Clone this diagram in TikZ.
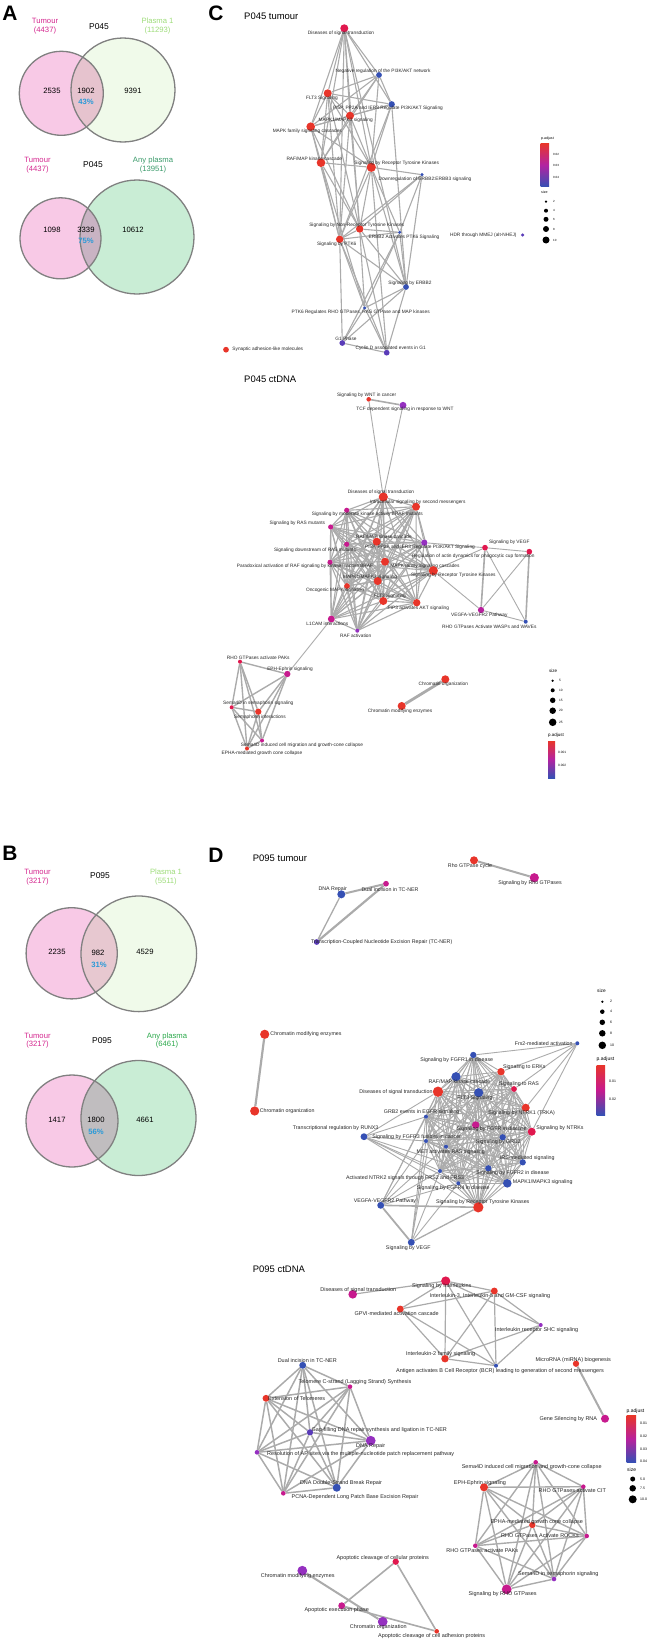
\documentclass[tikz,border=0pt]{standalone}
\usepackage{fontspec}
\setmainfont{Liberation Sans}
\pgfdeclarelayer{edges}
\pgfsetlayers{edges,main}
\definecolor{cR}{HTML}{E8352A}
\definecolor{cC}{HTML}{E0184E}
\definecolor{cM}{HTML}{C71A8E}
\definecolor{cP}{HTML}{9530C0}
\definecolor{cV}{HTML}{5A3CB8}
\definecolor{cB}{HTML}{3550B4}
\definecolor{edgeg}{HTML}{ABABAB}
\definecolor{pinkf}{HTML}{F8C9E6}
\definecolor{plaf}{HTML}{F0FAEA}
\definecolor{anyf}{HTML}{C9EDD5}
\definecolor{ovAa}{HTML}{E6C3CE}
\definecolor{ovAb}{HTML}{C9B3C3}
\definecolor{ovBa}{HTML}{E7C8D0}
\definecolor{ovBb}{HTML}{C0BDBF}
\definecolor{vout}{HTML}{808080}
\definecolor{tumc}{HTML}{D4268E}
\definecolor{plac}{HTML}{9EDC7A}
\definecolor{anyAc}{HTML}{3A9A6A}
\definecolor{anyBc}{HTML}{2AA84A}
\definecolor{pctc}{HTML}{2A9AD8}
\newcommand\gn[8]{\node[dot,fill=#4,minimum size=1.15*#5bp] (#1) at (#2,#3) {};\node[gl] (#1l) at (#6,#7) {#8};}
\newcommand\myclique[2][]{\foreach \a [count=\i] in {#2} {\foreach \b [count=\j] in {#2} {\ifnum\j>\i\relax \draw[edge,#1] (\a) -- (\b);\fi}}}
\begin{document}
\begin{tikzpicture}[x=1bp,y=-1bp,
  dot/.style={circle,inner sep=0pt,draw=none},
  gl/.style={font=\fontsize{4.8}{5}\selectfont,inner sep=0pt,text=black!85},
  edge/.style={draw=edgeg,line width=1.1bp},
  tedge/.style={draw=edgeg,line width=2.2bp},
  vtxt/.style={font=\fontsize{7.7}{8.5}\selectfont,inner sep=0pt,align=center},
  ptxt/.style={font=\fontsize{8.5}{9}\selectfont,inner sep=0pt},
  pct/.style={font=\fontsize{7.7}{8}\selectfont\bfseries,inner sep=0pt,text=pctc},
  ttl/.style={font=\fontsize{9.5}{10}\selectfont,inner sep=0pt,anchor=west},
  plet/.style={font=\fontsize{21}{22}\selectfont\bfseries,inner sep=0pt},
  legt/.style={font=\fontsize{3.6}{4}\selectfont,inner sep=0pt,anchor=west},
  vcirc/.style={draw=vout,line width=1.3bp}]
\useasboundingbox (0,0) rectangle (654,1646);

% ---------- panel letters ----------
\node[plet] (LA) at (10,13) {A};
\node[plet] (LB) at (10,853) {B};
\node[plet] (LC) at (216,13) {C};
\node[plet] (LD) at (216,855) {D};

% ---------- Venn A1 ----------
\fill[pinkf] (61.3,93.3) circle (42);
\fill[plaf] (123,90) circle (52);
\begin{scope}\clip (61.3,93.3) circle (42); \fill[ovAa] (123,90) circle (52);\end{scope}
\draw[vcirc] (61.3,93.3) circle (42);
\draw[vcirc] (123,90) circle (52);
\node[vtxt,text=tumc] (a1t) at (45,26) {Tumour\\(4437)};
\node[ptxt] (a1p) at (99,27) {P045};
\node[vtxt,text=plac] (a1s) at (157.5,26) {Plasma 1\\(11293)};
\node[vtxt] (a1n1) at (52,91) {2535};
\node[vtxt] (a1n2) at (86,91) {1902};
\node[pct] (a1pc) at (86,102) {43\%};
\node[vtxt] (a1n3) at (133,91) {9391};

% ---------- Venn A2 ----------
\fill[pinkf] (60.5,238.3) circle (40.5);
\fill[anyf] (137,237) circle (57);
\begin{scope}\clip (60.5,238.3) circle (40.5); \fill[ovAb] (137,237) circle (57);\end{scope}
\draw[vcirc] (60.5,238.3) circle (40.5);
\draw[vcirc] (137,237) circle (57);
\node[vtxt,text=tumc] (a2t) at (37.5,165) {Tumour\\(4437)};
\node[ptxt] (a2p) at (93,165) {P045};
\node[vtxt,text=anyAc] (a2s) at (153,165) {Any plasma\\(13951)};
\node[vtxt] (a2n1) at (52,230) {1098};
\node[vtxt] (a2n2) at (86,230) {3339};
\node[pct] (a2pc) at (86,241) {75\%};
\node[vtxt] (a2n3) at (133,230) {10612};

% ---------- Venn B1 ----------
\fill[pinkf] (71.7,953.3) circle (45.6);
\fill[plaf] (138.8,953.8) circle (57.8);
\begin{scope}\clip (71.7,953.3) circle (45.6); \fill[ovBa] (138.8,953.8) circle (57.8);\end{scope}
\draw[vcirc] (71.7,953.3) circle (45.6);
\draw[vcirc] (138.8,953.8) circle (57.8);
\node[vtxt,text=tumc] (b1t) at (37.5,877) {Tumour\\(3217)};
\node[ptxt] (b1p) at (100,876) {P095};
\node[vtxt,text=plac] (b1s) at (166,877) {Plasma 1\\(5511)};
\node[vtxt] (b1n1) at (57,952) {2235};
\node[vtxt] (b1n2) at (98,953) {982};
\node[pct] (b1pc) at (99,965) {31\%};
\node[vtxt] (b1n3) at (145,952) {4529};

% ---------- Venn B2 ----------
\fill[pinkf] (72,1121) circle (46);
\fill[anyf] (138.5,1118) circle (57.5);
\begin{scope}\clip (72,1121) circle (46); \fill[ovBb] (138.5,1118) circle (57.5);\end{scope}
\draw[vcirc] (72,1121) circle (46);
\draw[vcirc] (138.5,1118) circle (57.5);
\node[vtxt,text=tumc] (b2t) at (37.5,1040.5) {Tumour\\(3217)};
\node[ptxt] (b2p) at (102,1041) {P095};
\node[vtxt,text=anyBc] (b2s) at (167,1040.5) {Any plasma\\(6461)};
\node[vtxt] (b2n1) at (57,1120) {1417};
\node[vtxt] (b2n2) at (96,1120) {1800};
\node[pct] (b2pc) at (96,1132) {56\%};
\node[vtxt] (b2n3) at (145,1120) {4661};

% ---------- C: P045 tumour ----------
\node[ttl] (ctT) at (244,16) {P045 tumour};
\gn{ct1}{344.3}{28.3}{cC}{7}{341}{33}{Diseases of signal transduction}
\gn{ct2}{379}{75}{cB}{5}{383}{71}{Negative regulation of the PI3K/AKT network}
\gn{ct3}{327.7}{93.3}{cR}{7}{322}{98}{FLT3 Signaling}
\gn{ct4}{391.7}{104.3}{cB}{5.5}{388}{108.7}{PI5P, PP2A and IER3 Regulate PI3K/AKT Signaling}
\gn{ct5}{350}{115.7}{cR}{7}{345.7}{120}{MAPK1/MAPK3 signaling}
\gn{ct6}{310.7}{126.7}{cR}{7.5}{307.3}{131.3}{MAPK family signaling cascades}
\gn{ct7}{321}{162.7}{cR}{7.5}{314.3}{159}{RAF/MAP kinase cascade}
\gn{ct8}{371.3}{167.3}{cR}{8}{396.7}{163.7}{Signaling by Receptor Tyrosine Kinases}
\gn{ct9}{422}{174.7}{cB}{3}{425}{179}{Downregulation of ERBB2:ERBB3 signaling}
\gn{ct10}{359.7}{229}{cR}{6.5}{356.7}{225}{Signaling by Non-Receptor Tyrosine Kinases}
\gn{ct11}{339.7}{239.3}{cR}{6.5}{336.7}{244}{Signaling by PTK6}
\gn{ct12}{399.7}{232.3}{cB}{3}{404}{237.3}{ERBB2 Activates PTK6 Signaling}
\gn{ct13}{522.7}{235}{cV}{3}{483.3}{235}{HDR through MMEJ (alt-NHEJ)}
\gn{ct14}{406}{287}{cB}{5}{410}{283.7}{Signaling by ERBB2}
\gn{ct15}{364.7}{308}{cB}{3}{360.7}{312.7}{PTK6 Regulates RHO GTPases, RAS GTPase and MAP kinases}
\gn{ct16}{342.3}{343}{cV}{5}{346}{339}{G1 Phase}
\gn{ct17}{386.7}{352.7}{cV}{5}{390.7}{348.7}{Cyclin D associated events in G1}
\gn{ct18}{226}{349.7}{cR}{5}{267.8}{349.7}{Synaptic adhesion-like molecules}
\begin{pgfonlayer}{edges}
\foreach \a/\b in {ct1/ct2,ct1/ct3,ct1/ct4,ct1/ct5,ct1/ct6,ct1/ct7,ct1/ct8,ct1/ct11,ct1/ct10,ct1/ct14,
 ct2/ct3,ct2/ct5,ct2/ct6,ct2/ct4,ct2/ct8,ct2/ct7,ct3/ct4,ct3/ct5,ct3/ct6,ct3/ct7,ct3/ct8,ct3/ct11,ct3/ct10,
 ct4/ct5,ct4/ct6,ct4/ct8,ct4/ct11,ct4/ct14,ct5/ct6,ct5/ct7,ct5/ct8,ct5/ct11,ct5/ct10,ct6/ct7,ct6/ct8,ct6/ct11,ct6/ct10,
 ct7/ct8,ct7/ct11,ct7/ct10,ct7/ct15,ct8/ct9,ct8/ct10,ct8/ct11,ct8/ct12,ct8/ct14,ct8/ct17,ct9/ct10,ct9/ct11,ct9/ct12,ct9/ct14,
 ct10/ct11,ct10/ct12,ct10/ct14,ct10/ct15,ct10/ct17,ct11/ct12,ct11/ct14,ct11/ct15,ct11/ct16,ct11/ct17,ct12/ct14,ct12/ct15,ct12/ct16,
 ct14/ct15,ct14/ct16,ct14/ct17,ct15/ct16,ct15/ct17,ct16/ct17}
 {\draw[edge] (\a) -- (\b);}
\end{pgfonlayer}
% legend
\node[legt] (lc1a) at (541,138.3) {p.adjust};
\shade[top color=cR,bottom color=cB,middle color=cM!60!cP] (540.7,143.3) rectangle (549,186.7);
\node[legt,font=\fontsize{3}{3}\selectfont] (lc1b) at (553,154) {0.02};
\node[legt,font=\fontsize{3}{3}\selectfont] (lc1c) at (553,165.3) {0.03};
\node[legt,font=\fontsize{3}{3}\selectfont] (lc1d) at (553,177.3) {0.04};
\node[legt] (lc1e) at (541,192.7) {size};
\foreach \yy/\dd/\tt [count=\k] in {201.7/2.5/2,210.7/4/4,219.3/5/6,229/6/8,240/7/10}
 {\node[dot,fill=black,minimum size=\dd bp] (lc1s\k) at (546,\yy) {};
  \node[legt,font=\fontsize{3}{3}\selectfont] (lc1t\k) at (553,\yy) {\tt};}

% ---------- C: P045 ctDNA ----------
\node[ttl] (ccT) at (244,379.3) {P045 ctDNA};
\gn{cc1}{368.7}{399.3}{cR}{4}{366.7}{395.3}{Signaling by WNT in cancer}
\gn{cc2}{403}{405.3}{cP}{6}{405}{409.7}{TCF dependent signaling in response to WNT}
\gn{cc3}{383.3}{497}{cR}{8}{381}{492}{Diseases of signal transduction}
\gn{cc4}{416}{506.7}{cR}{7}{417.7}{502.7}{Intracellular signaling by second messengers}
\gn{cc5}{346.7}{510.3}{cM}{4.5}{367.3}{514.7}{Signaling by moderate kinase activity BRAF mutants}
\gn{cc6}{330.7}{527}{cM}{4.5}{297.3}{523}{Signaling by RAS mutants}
\gn{cc7}{376.7}{541.7}{cR}{7}{384}{536.7}{RAF/MAP kinase cascade}
\gn{cc8}{346.7}{544.3}{cM}{4.5}{315}{550.7}{Signaling downstream of RAS mutants}
\gn{cc9}{424.3}{542.7}{cP}{5.5}{420}{547}{PI5P, PP2A and IER3 Regulate PI3K/AKT Signaling}
\gn{cc10}{485}{547.7}{cC}{5}{509.3}{542.3}{Signaling by VEGF}
\gn{cc11}{529.3}{551.7}{cC}{5}{473.3}{556.3}{Regulation of actin dynamics for phagocytic cup formation}
\gn{cc12}{330}{562.3}{cM}{4.5}{305}{566.7}{Paradoxical activation of RAF signaling by kinase inactive BRAF}
\gn{cc13}{385}{561.7}{cR}{7}{425}{566}{MAPK family signaling cascades}
\gn{cc14}{433.3}{570.7}{cR}{8}{453.3}{575.3}{Signaling by Receptor Tyrosine Kinases}
\gn{cc15}{377.7}{581}{cR}{7}{370}{577.3}{MAPK1/MAPK3 signaling}
\gn{cc16}{347}{586}{cR}{5}{335}{590.7}{Oncogenic MAPK signaling}
\gn{cc17}{383.3}{601}{cR}{7}{390}{596.7}{FLT3 Signaling}
\gn{cc18}{416.7}{602.7}{cR}{6.5}{418.3}{608.3}{PIP3 activates AKT signaling}
\gn{cc19}{481}{610}{cM!70!cP}{5.5}{479.3}{615}{VEGFA-VEGFR2 Pathway}
\gn{cc20}{525.7}{621.7}{cB}{3.5}{489.3}{626.7}{RHO GTPases Activate WASPs and WAVEs}
\gn{cc21}{331.3}{619}{cM}{6}{327.3}{624}{L1CAM interactions}
\gn{cc22}{357.3}{630.7}{cP}{3.5}{355.7}{636}{RAF activation}
\gn{cb1}{240}{661.7}{cC}{3.5}{258.3}{657.7}{RHO GTPases activate PAKs}
\gn{cb2}{287.3}{674}{cM}{5.5}{290}{669.3}{EPH-Ephrin signaling}
\gn{cb3}{231.7}{707.3}{cC}{3.5}{258.3}{703.7}{Sema4D in semaphorin signaling}
\gn{cb4}{258.3}{711.7}{cR}{5.5}{260}{717}{Semaphorin interactions}
\gn{cb5}{262}{740.5}{cM}{3.5}{302}{745.5}{Sema4D induced cell migration and growth-cone collapse}
\gn{cb6}{247}{748.5}{cR}{3.5}{262}{753}{EPHA-mediated growth cone collapse}
\gn{ch1}{445.3}{679.3}{cR}{7}{443.3}{684}{Chromatin organization}
\gn{ch2}{401.7}{706}{cR}{7}{400}{711}{Chromatin modifying enzymes}
\begin{pgfonlayer}{edges}
\myclique{cc3,cc4,cc5,cc6,cc7,cc8,cc9,cc12,cc13,cc14,cc15,cc16,cc17,cc18,cc21,cc22}
\draw[tedge,line width=1.6bp] (cc1) -- (cc2);
\foreach \a/\b in {cc1/cc3,cc2/cc3,cc14/cc10,cc14/cc19,cc9/cc10,cc10/cc11,cc11/cc19,cc10/cc20,cc19/cc20,cc21/cb2}
 {\draw[edge,line width=0.9bp] (\a) -- (\b);}
\draw[edge,line width=1.6bp] (cc10) -- (cc19);
\draw[edge,line width=1.6bp] (cc11) -- (cc20);
\myclique[line width=1.4bp]{cb1,cb2,cb3,cb4,cb5,cb6}
\draw[tedge,line width=2.8bp] (ch1) -- (ch2);
\end{pgfonlayer}
% legend
\node[legt,font=\fontsize{4.5}{5}\selectfont] (lc2a) at (549,670.7) {size};
\foreach \yy/\dd/\tt [count=\k] in {680.7/2.5/5,690.3/4/10,700.3/5.5/15,710.7/6.5/20,722.3/7.5/25}
 {\node[dot,fill=black,minimum size=\dd bp] (lc2s\k) at (552.7,\yy) {};
  \node[legt,font=\fontsize{3.2}{3}\selectfont] (lc2t\k) at (559,\yy) {\tt};}
\node[legt,font=\fontsize{4.5}{5}\selectfont] (lc2b) at (548,735.7) {p.adjust};
\shade[top color=cR,bottom color=cB,middle color=cM!60!cP] (548,741) rectangle (555,778);
\node[legt,font=\fontsize{3.2}{3}\selectfont] (lc2c) at (558,752) {0.001};
\node[legt,font=\fontsize{3.2}{3}\selectfont] (lc2d) at (558,765) {0.002};

% ---------- D: P095 tumour ----------
\begin{scope}[gl/.style={font=\fontsize{5.3}{6}\selectfont,inner sep=0pt,text=black!85}]
\node[ttl] (dtT) at (252.7,858.3) {P095 tumour};
\gn{dt1}{341.3}{894.3}{cB}{7}{332.7}{889.3}{DNA Repair}
\gn{dt2}{386}{883.7}{cM}{5}{390}{889.3}{Dual incision in TC-NER}
\gn{dt3}{316.7}{942}{cV}{5}{381.7}{942.3}{Transcription-Coupled Nucleotide Excision Repair (TC-NER)}
\gn{dt4}{474}{860.3}{cR}{7}{470}{866}{Rho GTPase cycle}
\gn{dt5}{534.3}{877.7}{cM}{8}{530}{883.3}{Signaling by Rho GTPases}
\gn{de1}{264.7}{1034.3}{cR}{8}{306}{1034.3}{Chromatin modifying enzymes}
\gn{de2}{254.7}{1111}{cR}{8}{287.2}{1111}{Chromatin organization}
\gn{de3}{577.3}{1043.3}{cB}{3.5}{543.7}{1043.3}{Frs2-mediated activation}
\gn{de4}{473.3}{1055}{cB}{5.5}{456.7}{1060}{Signaling by FGFR1 in disease}
\gn{de5}{501}{1071.7}{cR}{6.5}{524.3}{1067.3}{Signaling to ERKs}
\gn{de6}{456}{1076.7}{cB}{8}{459.3}{1081.7}{RAF/MAP kinase cascade}
\gn{de7}{514}{1089}{cC}{5}{519}{1084.3}{Signaling to RAS}
\gn{de8}{438}{1091.7}{cR}{9}{396}{1091.7}{Diseases of signal transduction}
\gn{de9}{478.7}{1092.7}{cB}{8}{475}{1097.7}{FLT3 Signaling}
\gn{de10}{525.7}{1107.7}{cR}{7}{521.7}{1113.3}{Signaling by NTRK1 (TRKA)}
\gn{de11}{426}{1116.7}{cB}{3.5}{421.7}{1111.7}{GRB2 events in EGFR signaling}
\gn{de12}{364}{1136.7}{cB}{6}{335.7}{1128.3}{Transcriptional regulation by RUNX3}
\gn{de13}{475.7}{1125}{cM}{6.5}{491.7}{1129.3}{Signaling by FGFR in disease}
\gn{de14}{531.7}{1131.7}{cC}{7}{560}{1127.7}{Signaling by NTRKs}
\gn{de15}{426}{1141}{cB}{3.5}{416.7}{1137.3}{Signaling by FGFR3 fusions in cancer}
\gn{de16}{502.7}{1137.3}{cB}{5.5}{498.3}{1141.7}{Signaling by GRB2}
\gn{de17}{446}{1146.7}{cB}{3.5}{450.7}{1152}{MET activates RAS signaling}
\gn{de18}{522.7}{1162.3}{cB}{5.5}{527.3}{1157.7}{IRS-mediated signaling}
\gn{de19}{488.3}{1168.3}{cB}{5.5}{512.7}{1172.7}{Signaling by FGFR2 in disease}
\gn{de20}{440}{1171}{cB}{3.5}{405}{1177.7}{Activated NTRK2 signals through FRS2 and FRS3}
\gn{de21}{458.3}{1183.3}{cB}{3.5}{453.3}{1188.3}{Signaling by FGFR4 in disease}
\gn{de22}{507.3}{1183.3}{cB}{7.5}{542.7}{1182.3}{MAPK1/MAPK3 signaling}
\gn{de23}{380.7}{1205.3}{cB}{6}{385}{1201}{VEGFA-VEGFR2 Pathway}
\gn{de24}{478.3}{1207.3}{cR}{9}{482.7}{1202}{Signaling by Receptor Tyrosine Kinases}
\gn{de25}{411.3}{1242.3}{cB}{6}{408.3}{1247.7}{Signaling by VEGF}
\end{scope}
\begin{pgfonlayer}{edges}
\draw[tedge,line width=2bp] (dt1) -- (dt2);
\draw[edge,line width=1.3bp] (dt1) -- (dt3);
\draw[tedge,line width=2.2bp] (dt2) -- (dt3);
\draw[tedge,line width=2bp] (dt4) -- (dt5);
\draw[tedge,line width=2.2bp] (de1) -- (de2);
\myclique[line width=0.9bp]{de4,de5,de6,de7,de8,de9,de10,de11,de13,de14,de15,de16,de17,de18,de19,de20,de21,de22,de24}
\foreach \a/\b in {de3/de4,de3/de5,de3/de7,de3/de10,de3/de14,
 de12/de8,de12/de11,de12/de15,de12/de24,de12/de20,de12/de21,de12/de22,
 de23/de8,de23/de11,de23/de15,de23/de17,de23/de20,de23/de21,
 de25/de20,de25/de21,de25/de15,de25/de11,de25/de8}
 {\draw[edge,line width=0.9bp] (\a) -- (\b);}
\draw[edge,line width=1.6bp] (de23) -- (de24);
\draw[edge,line width=1.8bp] (de23) -- (de25);
\draw[edge,line width=1.3bp] (de25) -- (de24);
\end{pgfonlayer}
% legend
\node[legt,font=\fontsize{4.8}{5}\selectfont] (ld1a) at (597,991) {size};
\foreach \yy/\dd/\tt [count=\k] in {1001.7/2.5/2,1011.7/4.5/4,1022.3/5.5/6,1033.3/6.5/8,1045.3/7.5/10}
 {\node[dot,fill=black,minimum size=\dd bp] (ld1s\k) at (602.3,\yy) {};
  \node[legt,font=\fontsize{3.5}{3}\selectfont] (ld1t\k) at (610,\yy) {\tt};}
\node[legt,font=\fontsize{5}{5}\selectfont] (ld1b) at (596.5,1059.3) {p.adjust};
\shade[top color=cR,bottom color=cB,middle color=cM] (596.7,1065) rectangle (605,1115);
\node[legt,font=\fontsize{3.5}{3}\selectfont] (ld1c) at (609,1081) {0.01};
\node[legt,font=\fontsize{3.5}{3}\selectfont] (ld1d) at (609,1099.7) {0.02};

% ---------- D: P095 ctDNA ----------
\begin{scope}[gl/.style={font=\fontsize{5.5}{6}\selectfont,inner sep=0pt,text=black!85}]
\node[ttl] (dcT) at (252.7,1269) {P095 ctDNA};
\gn{f1}{445.7}{1281}{cC}{8}{441.7}{1286}{Signaling by Interleukins}
\gn{f2}{352.7}{1294.3}{cM}{7.5}{358.3}{1290}{Diseases of signal transduction}
\gn{f3}{494.3}{1291}{cR}{6}{490}{1295.7}{Interleukin-3, Interleukin-5 and GM-CSF signaling}
\gn{f4}{400.3}{1309}{cR}{6}{396.7}{1314}{GPVI-mediated activation cascade}
\gn{f5}{540.7}{1325}{cP}{3.5}{536.7}{1330}{Interleukin receptor SHC signaling}
\gn{f6}{445}{1358.7}{cR}{6.5}{440.7}{1354.3}{Interleukin-2 family signaling}
\gn{f7}{496}{1365.7}{cB}{3.5}{500}{1371}{Antigen activates B Cell Receptor (BCR) leading to generation of second messengers}
\gn{f8}{576}{1363.7}{cR}{5.5}{573.3}{1359.7}{MicroRNA (miRNA) biogenesis}
\gn{f9}{605}{1418.7}{cM}{7}{568.3}{1419}{Gene Silencing by RNA}
\gn{g1}{302.7}{1365.3}{cB}{6}{307.3}{1361}{Dual incision in TC-NER}
\gn{g2}{350}{1386.7}{cM}{4}{355}{1382.3}{Telomere C-strand (Lagging Strand) Synthesis}
\gn{g3}{266}{1398.3}{cR}{6}{296.7}{1398.3}{Extension of Telomeres}
\gn{g4}{310}{1432.3}{cV}{5.5}{379.3}{1430}{Gap-filling DNA repair synthesis and ligation in TC-NER}
\gn{g5}{370.7}{1440.7}{cP}{8.5}{370.7}{1445.7}{DNA Repair}
\gn{g6}{257}{1452.3}{cP}{4}{360.7}{1454.3}{Resolution of AP sites via the multiple-nucleotide patch replacement pathway}
\gn{g7}{336.7}{1487.7}{cB}{7}{341}{1483.3}{DNA Double-Strand Break Repair}
\gn{g8}{283.3}{1493.3}{cM}{4}{355}{1497.3}{PCNA-Dependent Long Patch Base Excision Repair}
\gn{h1}{535.7}{1462.3}{cM}{4}{531.7}{1467}{Sema4D induced cell migration and growth-cone collapse}
\gn{h2}{484}{1487.3}{cR}{7}{480}{1483.3}{EPH-Ephrin signaling}
\gn{h3}{583.3}{1486.7}{cM}{4}{572.3}{1490.7}{RHO GTPases activate CIT}
\gn{h4}{532.3}{1525}{cR}{5.5}{536.7}{1521.7}{EPHA-mediated growth cone collapse}
\gn{h5}{586.7}{1536}{cM}{4}{540}{1536}{RHO GTPases Activate ROCKs}
\gn{h6}{475.3}{1545.7}{cM}{4}{482.3}{1550.7}{RHO GTPases activate PAKs}
\gn{h7}{554}{1579}{cP}{4}{558.3}{1574.3}{Sema4D in semaphorin signaling}
\gn{h8}{506.7}{1589.3}{cM}{8.5}{502.7}{1594}{Signaling by RHO GTPases}
\gn{i1}{395.7}{1561.7}{cC}{5.5}{382.7}{1557.7}{Apoptotic cleavage of cellular proteins}
\gn{i2}{302.3}{1570.7}{cP}{8.5}{297.7}{1575.7}{Chromatin modifying enzymes}
\gn{i3}{341.7}{1605.7}{cM}{6}{336.7}{1610.3}{Apoptotic execution phase}
\gn{i4}{382.7}{1621.7}{cP}{8.5}{378.3}{1626.7}{Chromatin organization}
\gn{i5}{436.7}{1631.3}{cR}{4}{431.7}{1636}{Apoptotic cleavage of cell adhesion  proteins}
\end{scope}
\begin{pgfonlayer}{edges}
\foreach \a/\b in {f1/f2,f1/f3,f1/f4,f1/f5,f1/f6,f1/f7,f3/f4,f3/f5,f3/f6,f3/f7,f4/f7,f5/f6,f5/f7,f6/f7,f4/f6}
 {\draw[edge,line width=1.2bp] (\a) -- (\b);}
\draw[tedge,line width=2bp] (f8) -- (f9);
\myclique[line width=1.5bp]{g1,g2,g3,g4,g5,g6,g7,g8}
\myclique[line width=1.4bp]{h1,h2,h3,h4,h5,h6,h7,h8}
\draw[tedge,line width=2bp] (i2) -- (i4);
\foreach \a/\b in {i1/i3,i1/i5,i3/i5}
 {\draw[edge,line width=1.6bp] (\a) -- (\b);}
\end{pgfonlayer}
% legend
\node[legt,font=\fontsize{5}{5}\selectfont] (ld2a) at (626.5,1411) {p.adjust};
\shade[top color=cR,bottom color=cB,middle color=cM!70!cP] (626.7,1415.7) rectangle (636,1462.3);
\foreach \yy/\tt [count=\k] in {1423.7/0.01,1436.7/0.02,1449/0.03,1461.7/0.04}
 {\node[legt,font=\fontsize{3.5}{3}\selectfont] (ld2t\k) at (640,\yy) {\tt};}
\node[legt,font=\fontsize{5}{5}\selectfont] (ld2b) at (627,1469.3) {size};
\foreach \yy/\dd/\tt [count=\k] in {1479/5/5.0,1488.3/6.5/7.5,1499.3/8/10.0}
 {\node[dot,fill=black,minimum size=\dd bp] (ld2s\k) at (632.7,\yy) {};
  \node[legt,font=\fontsize{3.5}{3}\selectfont] (ld2u\k) at (640,\yy) {\tt};}
\end{tikzpicture}
\end{document}
